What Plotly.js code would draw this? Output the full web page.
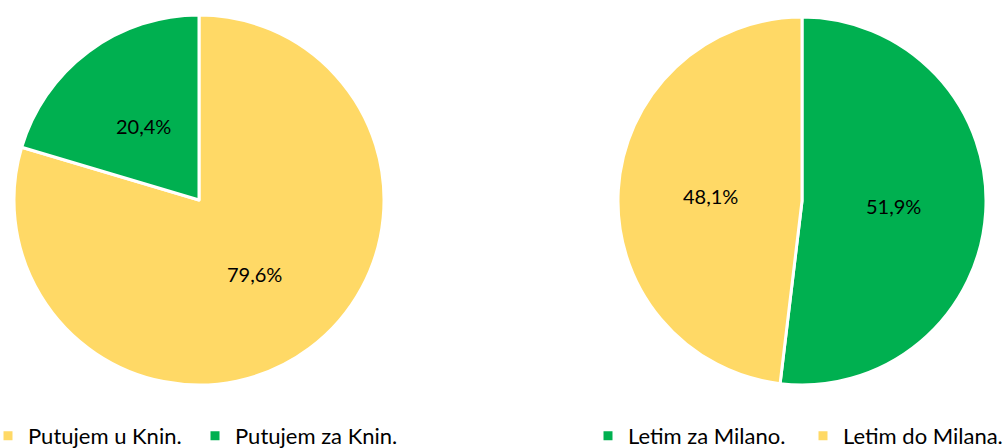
<!DOCTYPE html>
<html><head><meta charset="utf-8">
<script src="https://cdn.plot.ly/plotly-3.0.1.min.js"></script>
<style>html,body{margin:0;padding:0;background:#fff}</style>
</head><body><div id="chart" style="width:1005px;height:448px"></div>
<script>
var leftLabels = ['Putujem u Knin.', 'Putujem za Knin.'];
var leftValues = [79.6, 20.4];
var rightLabels = ['Letim za Milano.', 'Letim do Milana.'];
var rightValues = [51.9, 48.1];
var yellow = '#FFD966', green = '#00B050';

var W = 1005, H = 448;
var leftDomain = {x:[14/W, 384/W], y:[63/H, 433/H]};
var rightDomain = {x:[618/W, 986/W], y:[63/H, 431/H]};

function pieTrace(labels, values, colors, domain, legendId) {
  return {type:'pie', labels:labels, values:values, sort:false, direction:'clockwise', rotation:0,
    marker:{colors:colors, line:{color:'#fff', width:3}},
    textinfo:'none', hoverinfo:'none', domain:domain, legend:legendId};
}

// percentage labels placed at the middle angle of each slice, half way out
function sliceLabels(values, domain) {
  var cx = (domain.x[0] + domain.x[1]) / 2, cy = (domain.y[0] + domain.y[1]) / 2;
  var r = Math.min((domain.x[1]-domain.x[0])*W, (domain.y[1]-domain.y[0])*H) / 2;
  var total = values.reduce(function(a,b){return a+b;}, 0);
  var cum = 0, out = [];
  values.forEach(function(v){
    var th = 2*Math.PI*(cum + v/2)/total;
    cum += v;
    out.push({xref:'paper', yref:'paper', showarrow:false,
      x: cx + Math.sin(th)*0.5*r/W, y: cy + Math.cos(th)*0.5*r/H,
      xanchor:'center', yanchor:'middle',
      text: v.toFixed(1).replace('.', ',') + '%',
      font:{family:'Lato, sans-serif', size:20, color:'#000'}});
  });
  return out;
}

var traces = [
  pieTrace(leftLabels, leftValues, [yellow, green], leftDomain, 'legend'),
  pieTrace(rightLabels, rightValues, [green, yellow], rightDomain, 'legend2')
];
var legFont = {family:'Lato, sans-serif', size:22, color:'#000'};
var layout = {
  width:W, height:H, margin:{l:0,r:0,t:0,b:0, autoexpand:false},
  paper_bgcolor:'#fff', separators:',.',
  font:{family:'Lato, sans-serif', size:20, color:'#000'},
  annotations: sliceLabels(leftValues, leftDomain).concat(sliceLabels(rightValues, rightDomain)),
  legend:{orientation:'h', x:-12/W, xanchor:'left', y:12/H, yanchor:'middle', font:legFont,
          bgcolor:'rgba(0,0,0,0)', traceorder:'normal', entrywidth:162, itemwidth:30},
  legend2:{orientation:'h', x:588/W, xanchor:'left', y:12/H, yanchor:'middle', font:legFont,
          bgcolor:'rgba(0,0,0,0)', traceorder:'normal', entrywidth:170, itemwidth:30}
};
Plotly.newPlot('chart', traces, layout, {displayModeBar:false, staticPlot:true});
</script></body></html>
